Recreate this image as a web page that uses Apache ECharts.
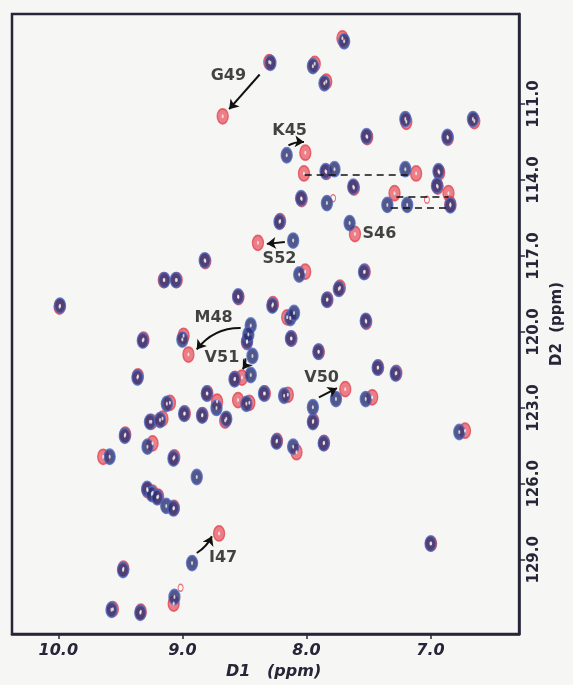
<!DOCTYPE html>
<html><head><meta charset="utf-8">
<script src="https://cdn.jsdelivr.net/npm/echarts@6/dist/echarts.min.js"></script>
<style>html,body{margin:0;padding:0;background:#f6f6f4}#c{width:573px;height:685px}</style>
</head><body><div id="c"></div>
<script>
// D1 (1H ppm), D2 (15N ppm)
const xTicks = [10, 9, 8, 7];
const yTicks = [111, 114, 117, 120, 123, 126, 129];

const bluePeaks = [
  [7.696,108.52],[8.290,109.37],[7.948,109.50],[7.855,110.18],[7.203,111.59],[6.658,111.59],
  [7.516,112.27],[6.864,112.30],[8.159,113.02],[7.846,113.65],[7.774,113.57],[7.203,113.57],
  [6.936,113.65],[7.623,114.26],[6.948,114.22],[8.043,114.72],[7.835,114.91],[7.348,114.98],
  [7.188,114.98],[6.840,115.00],[8.217,115.65],[7.652,115.70],[8.107,116.39],[8.820,117.17],
  [9.145,117.95],[9.052,117.95],[8.058,117.73],[7.536,117.63],[9.986,118.96],[8.551,118.60],
  [8.275,118.96],[7.835,118.73],[7.739,118.30],[8.130,119.45],[8.100,119.25],[7.522,119.56],
  [8.449,119.74],[9.319,120.34],[9.000,120.30],[8.478,120.37],[8.468,120.10],[8.125,120.26],
  [7.904,120.78],[8.435,120.95],[8.580,121.87],[8.449,121.70],[7.426,121.41],[7.281,121.64],
  [9.362,121.80],[7.762,122.65],[7.522,122.65],[8.803,122.43],[9.125,122.84],[8.725,123.00],
  [8.484,122.84],[8.342,122.43],[8.180,122.52],[7.948,122.97],[8.986,123.23],[8.841,123.30],
  [9.261,123.55],[9.180,123.48],[8.646,123.43],[7.948,123.56],[6.768,123.95],[9.464,124.10],
  [9.281,124.53],[9.586,124.93],[9.072,125.00],[8.241,124.33],[8.107,124.53],[7.861,124.40],
  [8.884,125.73],[9.284,126.20],[9.246,126.40],[9.203,126.53],[9.130,126.87],[9.072,126.97],
  [8.922,129.13],[7.000,128.36],[9.478,129.40],[9.064,130.47],[9.571,130.97],[9.339,131.09]
];

const redPeaks = [
  [7.710,108.40],[8.300,109.34],[7.933,109.41],[7.840,110.11],[8.675,111.48],[7.195,111.70],
  [6.647,111.67],[7.510,112.30],[6.860,112.33],[8.009,112.92],[8.020,113.74],[7.840,113.68],
  [7.116,113.74],[6.930,113.70],[7.617,114.30],[6.942,114.26],[7.290,114.52],[6.855,114.52],
  [8.038,114.75],[6.840,114.95],[8.212,115.62],[7.609,116.13],[8.391,116.48],[8.815,117.20],
  [9.150,117.95],[9.045,117.95],[8.010,117.62],[7.530,117.62],[9.990,119.00],[8.548,118.62],
  [8.270,118.90],[7.830,118.72],[7.730,118.25],[8.155,119.42],[7.518,119.60],[9.313,120.30],
  [8.990,120.15],[8.951,120.89],[8.480,120.40],[8.120,120.26],[7.900,120.78],[8.575,121.85],
  [8.520,121.80],[7.422,121.40],[7.275,121.62],[9.358,121.75],[7.687,122.26],[7.470,122.58],
  [8.798,122.43],[9.100,122.80],[8.720,122.75],[8.551,122.69],[8.460,122.80],[8.335,122.43],
  [8.150,122.48],[8.980,123.22],[8.838,123.28],[9.250,123.55],[9.160,123.42],[8.655,123.50],
  [7.945,123.52],[6.722,123.90],[9.460,124.05],[9.240,124.40],[9.638,124.93],[9.065,124.95],
  [8.237,124.30],[8.080,124.75],[7.858,124.38],[9.280,126.25],[9.240,126.35],[9.195,126.50],
  [9.068,126.95],[8.704,127.96],[6.995,128.36],[9.475,129.35],[9.070,130.73],[9.560,130.95],
  [9.335,131.05]
];

const smallRed = [[7.029,114.78],[7.785,114.72],[9.014,130.10]];

const labelNames = ['G49','K45','S46','S52','M48','V51','V50','I47'];
const labelPos = [[8.629,109.89],[8.136,112.07],[7.412,116.13],[8.217,117.10],
                  [8.748,119.43],[8.681,121.02],[7.878,121.80],[8.672,128.93]];

const arrowFrom = [[8.377,109.83],[8.145,112.63],[8.174,116.45],[8.530,119.84],
                   [8.493,121.04],[7.899,122.58],[8.884,128.73]];
const arrowTo   = [[8.623,111.20],[8.020,112.50],[8.319,116.52],[8.884,120.69],
                   [8.513,121.47],[7.754,122.22],[8.762,128.07]];
const arrowBend = [0, 0.15, 0, -0.25, 0.2, 0, -0.15];

const dashFrom = [[8.014,113.78],[7.275,114.65],[7.319,115.11]];
const dashTo   = [[7.145,113.78],[6.855,114.65],[6.841,115.11]];

const ink = '#262638';
const font = 'DejaVu Sans';

const chart = echarts.init(document.getElementById('c'));
chart.setOption({
  backgroundColor: '#f6f6f4',
  animation: false,
  grid: { left: 12, top: 14, right: 46, bottom: 45, show: true, borderColor: ink, borderWidth: 2.5, backgroundColor: 'transparent' },
  xAxis: {
    type: 'value', inverse: true, min: 6.286, max: 10.373,
    axisLine: { show: true, lineStyle: { color: ink, width: 2.5 } },
    splitLine: { show: false },
    axisTick: { show: true, customValues: xTicks, length: 5, lineStyle: { color: ink, width: 1.5 } },
    axisLabel: { customValues: xTicks, margin: 9, color: ink, fontFamily: font, fontWeight: 'bold', fontStyle: 'italic', fontSize: 16,
      formatter: v => v.toFixed(1) },
    name: 'D1   (ppm)', nameLocation: 'middle', nameGap: 30,
    nameTextStyle: { color: ink, fontFamily: font, fontWeight: 'bold', fontStyle: 'italic', fontSize: 16, padding: [0, 0, 0, 16] }
  },
  yAxis: {
    type: 'value', inverse: true, position: 'right', min: 107.44, max: 131.93,
    axisLine: { show: true, lineStyle: { color: ink, width: 2.5 } },
    splitLine: { show: false },
    axisTick: { show: true, customValues: yTicks, length: 6, lineStyle: { color: ink, width: 1.5 } },
    axisLabel: { customValues: yTicks, rotate: 90, margin: 8, color: ink, fontFamily: font, fontWeight: 'bold', fontSize: 15,
      formatter: v => v.toFixed(1) },
    name: 'D2  (ppm)', nameLocation: 'middle', nameGap: 30, nameRotate: 90,
    nameTextStyle: { color: ink, fontFamily: font, fontWeight: 'bold', fontSize: 15 }
  },
  series: [
    { type: 'scatter', data: redPeaks, symbol: 'circle', symbolSize: [11, 15], z: 2,
      itemStyle: { color: '#e9606a', borderColor: '#e24652', borderWidth: 1.5 } },
    { type: 'scatter', data: smallRed, symbol: 'circle', symbolSize: [5, 7], z: 2,
      itemStyle: { color: 'transparent', borderColor: '#e6505a', borderWidth: 1.2 } },
    { type: 'scatter', data: bluePeaks, symbol: 'circle', symbolSize: [11, 15], z: 3,
      itemStyle: { color: '#2a3170', borderColor: '#4f68bf', borderWidth: 1.6 } },
    { type: 'scatter', data: bluePeaks.concat(redPeaks), symbol: 'circle', symbolSize: [2, 4], z: 4, silent: true,
      itemStyle: { color: '#f2f2f2', opacity: 0.8 } },
    { type: 'lines', coordinateSystem: 'cartesian2d', z: 5, symbol: ['none', 'arrow'], symbolSize: 9,
      lineStyle: { color: '#111', width: 2, opacity: 1 },
      data: arrowFrom.map((p, i) => ({ coords: [p, arrowTo[i]], lineStyle: { curveness: arrowBend[i] } })) },
    { type: 'lines', coordinateSystem: 'cartesian2d', z: 5, symbol: 'none',
      lineStyle: { color: '#111', width: 1.5, type: [7, 5], opacity: 1 },
      data: dashFrom.map((p, i) => ({ coords: [p, dashTo[i]] })) },
    { type: 'scatter', symbolSize: 0, z: 6, silent: true,
      data: labelPos.map((p, i) => ({ value: p, name: labelNames[i] })),
      label: { show: true, position: 'inside', formatter: '{b}', color: '#151515', fontFamily: font, fontWeight: 'bold', fontSize: 16 } }
  ]
});
</script></body></html>
